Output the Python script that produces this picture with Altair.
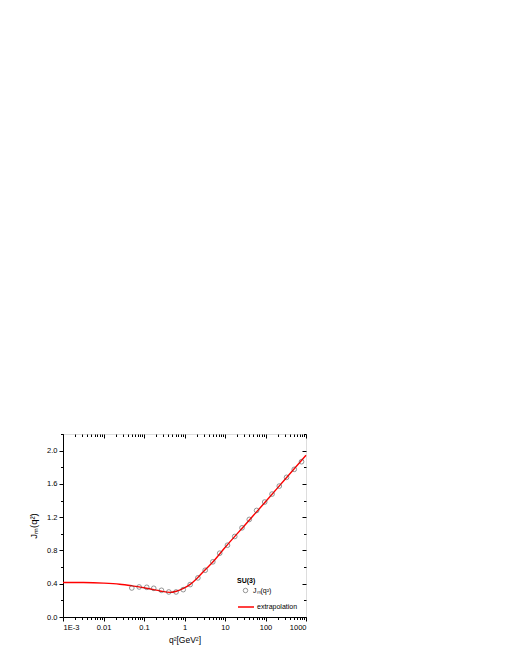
import altair as alt
import pandas as pd

# ---- data ----
Q2_DATA = [0.050, 0.076, 0.117, 0.174, 0.27, 0.41, 0.62, 0.93, 1.38, 2.14, 3.24, 5.0,
           7.4, 11.5, 17.4, 26.3, 39.8, 60.3, 95.5, 145, 219, 331, 513, 776]
J_DATA = [0.349, 0.361, 0.357, 0.345, 0.321, 0.301, 0.301, 0.329, 0.390, 0.470, 0.562, 0.663,
          0.767, 0.863, 0.968, 1.072, 1.173, 1.281, 1.382, 1.478, 1.574, 1.679, 1.775, 1.867]

Q2_LINE = [0.001, 0.00316, 0.01, 0.025, 0.05, 0.1, 0.166, 0.25, 0.44, 0.63, 0.91,
           1.41, 2.14, 3.16, 5.0, 10.0, 31.6, 100.0, 316.0, 1000.0]
J_LINE = [0.415, 0.414, 0.407, 0.394, 0.375, 0.352, 0.330, 0.313, 0.296, 0.310, 0.340,
          0.395, 0.475, 0.563, 0.660, 0.835, 1.110, 1.385, 1.665, 1.944]

X_MAJOR = [0.001, 0.01, 0.1, 1, 10, 100, 1000]
X_LABELS = ["1E-3", "0.01", "0.1", "1", "10", "100", "1000"]
X_MINOR = [m * 10.0 ** e for e in range(-3, 3) for m in range(2, 10)]
Y_MAJOR = [0.0, 0.4, 0.8, 1.2, 1.6, 2.0]
Y_MINOR = [0.2, 0.6, 1.0, 1.4, 1.8, 2.2]

SERIES_DATA = "Jₘ(q²)"
SERIES_LINE = "extrapolation"

df_pts = pd.DataFrame({"q2": Q2_DATA, "J": J_DATA, "series": SERIES_DATA})
df_line = pd.DataFrame({"q2": Q2_LINE, "J": J_LINE, "series": SERIES_LINE})

FONT = "Liberation Sans"
xs = alt.Scale(type="log", domain=[0.001, 1000])
ys = alt.Scale(domain=[0, 2.2])

label_expr = "[" + ",".join("'%s'" % s for s in X_LABELS) + "][round(log(datum.value)/LN10)+3]"

common_axis = dict(grid=False, domainColor="black", tickColor="black", labelColor="black",
                   titleColor="black", labelFont=FONT, titleFont=FONT)

line = alt.Chart(df_line).mark_line(strokeWidth=1.4, interpolate="monotone").encode(
    x=alt.X("q2:Q", scale=xs, axis=alt.Axis(orient="bottom", values=X_MAJOR, labelExpr=label_expr,
                                          tickSize=4, labelFontSize=7.5, labelPadding=2,
                                          title="q²[GeV²]", titleFontSize=8.5, titleFontWeight="normal",
                                          titlePadding=5, **common_axis)),
    y=alt.Y("J:Q", scale=ys, axis=alt.Axis(orient="left", values=Y_MAJOR, format=".1f",
                                         tickSize=4, labelFontSize=7.5, labelPadding=2,
                                         title="Jₘ(q²)", titleFontSize=9.5, titleFontWeight="normal",
                                         titlePadding=8, **common_axis)),
    color=alt.Color("series:N", scale=alt.Scale(domain=[SERIES_LINE], range=["#ff0000"]), title=None,
                    legend=alt.Legend(orient="none", legendX=174, legendY=164, symbolType="stroke",
                                      symbolSize=256, symbolStrokeWidth=1.5, labelFont=FONT,
                                      labelFontSize=7, labelColor="black", labelOffset=2, padding=0)),
)

pts = alt.Chart(df_pts).mark_point(shape="circle", filled=False, color="#444444", size=22,
                                   strokeWidth=0.8).encode(
    x=alt.X("q2:Q", scale=xs, axis=alt.Axis(orient="bottom", values=X_MINOR, labels=False,
                                          tickSize=2.5, domain=False, title="", grid=False,
                                          tickColor="black")),
    y=alt.Y("J:Q", scale=ys, axis=alt.Axis(orient="left", values=Y_MINOR, labels=False,
                                         tickSize=2.5, domain=False, title="", grid=False,
                                         tickColor="black")),
    shape=alt.Shape("series:N", scale=alt.Scale(domain=[SERIES_DATA], range=["circle"]),
                    legend=alt.Legend(orient="none", legendX=174, legendY=143, title="SU(3)",
                                      titleFont=FONT, titleFontSize=7, titleFontWeight="bold",
                                      titleColor="black", titlePadding=3, labelFont=FONT,
                                      labelFontSize=7, labelColor="black", symbolSize=20,
                                      symbolStrokeColor="#444444", symbolStrokeWidth=0.8,
                                      symbolFillColor="transparent", symbolOffset=5,
                                      labelOffset=4, padding=0)),
)

top_major = alt.Chart(df_pts).mark_point(opacity=0).encode(
    x=alt.X("q2:Q", scale=xs, axis=alt.Axis(orient="top", values=X_MAJOR, labels=False, tickSize=4,
                                          offset=-4, domain=False, title="", grid=False,
                                          tickColor="black")),
    y=alt.Y("J:Q", scale=ys, axis=alt.Axis(orient="right", values=Y_MAJOR, labels=False, tickSize=4,
                                         offset=-4, domain=False, title="", grid=False,
                                         tickColor="black")),
)

top_minor = alt.Chart(df_pts).mark_point(opacity=0).encode(
    x=alt.X("q2:Q", scale=xs, axis=alt.Axis(orient="top", values=X_MINOR, labels=False, tickSize=2.5,
                                          offset=-2.5, domain=False, title="", grid=False,
                                          tickColor="black")),
    y=alt.Y("J:Q", scale=ys, axis=alt.Axis(orient="right", values=Y_MINOR, labels=False, tickSize=2.5,
                                         offset=-2.5, domain=False, title="", grid=False,
                                         tickColor="black")),
)

chart = alt.layer(line, pts, top_major, top_minor).resolve_axis(
    x="independent", y="independent"
).properties(
    width=243, height=183,
    autosize=alt.AutoSizeParams(type="none"),
    padding={"left": 55, "top": 426, "right": 20, "bottom": 40},
).configure_view(
    stroke="black", strokeWidth=1
).configure(font=FONT, background="white")

chart.save("out.html", embed_options={"renderer": "svg", "actions": False})
